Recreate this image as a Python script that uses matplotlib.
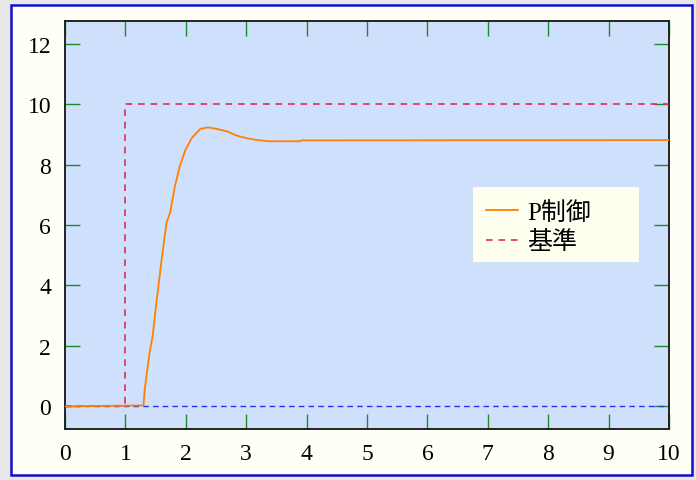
import matplotlib
matplotlib.use('Agg')
import matplotlib.pyplot as plt
from matplotlib.patches import Rectangle

# Step response of the P controller vs. the reference input
t_resp = [0.0, 1.30, 1.32, 1.40, 1.45, 1.52, 1.60, 1.68, 1.74, 1.82, 1.90, 1.99,
          2.10, 2.24, 2.37, 2.51, 2.68, 2.84, 3.01, 3.15, 3.37, 3.89, 3.92, 4.41, 10.0]
y_resp = [0.0, 0.03, 0.56, 1.77, 2.32, 3.54, 4.86, 6.07, 6.40, 7.28, 7.94, 8.47,
          8.88, 9.18, 9.23, 9.18, 9.10, 8.96, 8.87, 8.82, 8.77, 8.77, 8.80, 8.80, 8.81]

t_ref = [0.0, 1.0, 1.0, 10.0]
y_ref = [0.0, 0.0, 10.0, 10.0]

x_ticks = list(range(0, 11))
y_ticks = [0, 2, 4, 6, 8, 10, 12]
labels = ['P制御', '基準']

SERIF = ['Liberation Serif', 'Noto Sans CJK JP']
plt.rcParams['font.family'] = SERIF

fig = plt.figure(figsize=(6.96, 4.81), dpi=100, facecolor='#e8e8e8')
# framed panel behind the plot
fig.patches.append(Rectangle((11 / 696, 5 / 481), 681 / 696, 470 / 481,
                             transform=fig.transFigure, facecolor='#fffff5',
                             edgecolor='#1010cc', linewidth=1.8, zorder=-5))

ax = fig.add_axes([65 / 696, 51 / 481, 604 / 696, 408 / 481])
ax.set_facecolor('#cfe0fc')

ax.plot([0, 10], [0, 0], color='#2233ee', lw=1.0, dashes=(4, 3), zorder=2)
ax.plot(t_ref, y_ref, color='#e0304a', lw=1.2, dashes=(4, 3.5), label=labels[1], zorder=3)
ax.plot(t_resp, y_resp, color='#ff8000', lw=1.3, label=labels[0], zorder=4)

ax.set_xlim(0, 10)
ax.set_ylim(-0.75, 12.75)
ax.set_xticks(x_ticks)
ax.set_yticks(y_ticks)
ax.tick_params(direction='in', length=11, width=1.0, color='#1a8a2a',
               top=True, right=True, labelsize=17, pad=10)
for s in ax.spines.values():
    s.set_color('#222222')
    s.set_linewidth(1.4)

# legend sits on a wider pale box
ax.add_patch(Rectangle((0.675, 0.409), 0.275, 0.184, transform=ax.transAxes,
                       facecolor='#fffff0', edgecolor='none', zorder=5))
handles, labs = ax.get_legend_handles_labels()
leg = ax.legend(handles[::-1], labs[::-1], loc='upper left',
                bbox_to_anchor=(0.678, 0.586), prop={'family': SERIF, 'size': 18},
                frameon=False, handlelength=1.3, handletextpad=0.35,
                labelspacing=0.25, borderpad=0.45, borderaxespad=0)
leg.set_zorder(6)

fig.savefig('out.png', dpi=100, facecolor=fig.get_facecolor())
